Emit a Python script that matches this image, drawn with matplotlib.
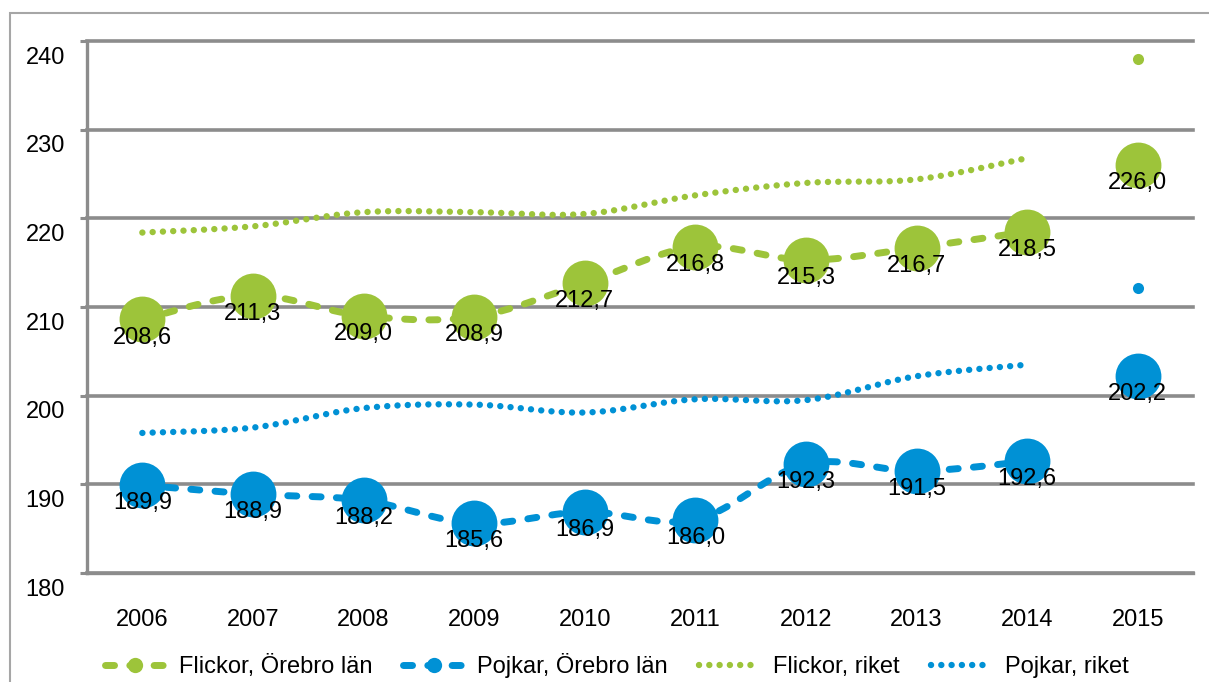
import matplotlib.pyplot as plt
import numpy as np
from matplotlib.lines import Line2D
from matplotlib.patches import Rectangle
from matplotlib.transforms import ScaledTranslation

plt.rcParams["font.family"] = ["Liberation Sans", "DejaVu Sans"]

YEARS = [str(y) for y in range(2006, 2016)]
FLICKOR_LAN = [208.6, 211.3, 209.0, 208.9, 212.7, 216.8, 215.3, 216.7, 218.5, 226.0]
POJKAR_LAN = [189.9, 188.9, 188.2, 185.6, 186.9, 186.0, 192.3, 191.5, 192.6, 202.2]
FLICKOR_RIKET = [218.4, 219.1, 220.7, 220.7, 220.5, 222.6, 224.0, 224.4, 226.8, 238.0]
POJKAR_RIKET = [195.8, 196.4, 198.6, 199.0, 198.1, 199.6, 199.5, 202.2, 203.5, 212.1]
Y_TICKS = [180, 190, 200, 210, 220, 230, 240]

GREEN = "#9dc43a"
BLUE = "#0091d5"
GRID = "#8c8c8c"
DASHED = (0, (1.3, 2.2))
DOTTED = (0, (0.01, 1.6))


def smooth(x, y, steps=24):
    # Excel-style smoothed line (Catmull-Rom as cubic Bezier)
    pts = np.column_stack([x, y]).astype(float)
    out = [pts[0]]
    t = np.linspace(0, 1, steps)[1:, None]
    for i in range(len(pts) - 1):
        p0 = pts[max(i - 1, 0)]
        p1, p2 = pts[i], pts[i + 1]
        p3 = pts[min(i + 2, len(pts) - 1)]
        c1 = p1 + (p2 - p0) / 6
        c2 = p2 - (p3 - p1) / 6
        seg = (1 - t) ** 3 * p1 + 3 * (1 - t) ** 2 * t * c1 + 3 * (1 - t) * t ** 2 * c2 + t ** 3 * p2
        out.extend(seg)
    out = np.array(out)
    return out[:, 0], out[:, 1]


fig = plt.figure(figsize=(12.09, 6.82), dpi=100)
ax = fig.add_axes([0.072, 0.1598, 0.9148, 0.780])
x = np.arange(len(YEARS))

# outer chart frame (runs past right/bottom edge)
fig.patches.append(Rectangle((10 / 1209, -0.1), 1.2, 1 - 13 / 682 + 0.1, transform=fig.transFigure,
                             fill=False, ec="#a6a6a6", lw=1.5))

for vals, color in [(FLICKOR_LAN, GREEN), (POJKAR_LAN, BLUE)]:
    sx, sy = smooth(x[:-1], vals[:-1])
    ax.plot(sx, sy, color=color, lw=5, ls=DASHED, dash_capstyle="round", zorder=2)
    ax.plot(x, vals, "o", ms=33, color=color, mec="none", zorder=3)
    for xi, v in zip(x, vals):
        ax.annotate(f"{v:.1f}".replace(".", ","), (xi, v), xytext=(0, -13), textcoords="offset points",
                    ha="center", va="center", fontsize=17, color="black", zorder=4)

for vals, color in [(FLICKOR_RIKET, GREEN), (POJKAR_RIKET, BLUE)]:
    sx, sy = smooth(x[:-1], vals[:-1])
    ax.plot(sx, sy, color=color, lw=4.6, ls=DOTTED, dash_capstyle="round", zorder=2)
    ax.plot(x[-1], vals[-1], "o", ms=8, color=color, mec="none", zorder=3)

ax.set_xlim(-0.5, len(YEARS) - 0.5)
ax.set_ylim(Y_TICKS[0], Y_TICKS[-1])
ax.set_yticks(Y_TICKS)
ax.set_xticks(x)
ax.set_xticklabels(YEARS)
ax.tick_params(axis="x", length=0, pad=26, labelsize=17)
ax.tick_params(axis="y", length=5, width=2.2, color=GRID, pad=11, labelsize=17)
ax.grid(axis="y", color=GRID, lw=2.6)
for gl in ax.get_ygridlines():
    gl.set_clip_on(False)
ax.set_axisbelow(True)
for side in ["top", "right"]:
    ax.spines[side].set_visible(False)
for side in ["left", "bottom"]:
    ax.spines[side].set_color(GRID)
    ax.spines[side].set_linewidth(2.4)

shift = ScaledTranslation(0, -14 / 100, fig.dpi_scale_trans)
for lbl in ax.get_yticklabels():
    lbl.set_transform(lbl.get_transform() + shift)

handles = [
    Line2D([], [], color=GREEN, lw=5, ls=DASHED, dash_capstyle="round", marker="o", ms=11, mec="none"),
    Line2D([], [], color=BLUE, lw=5, ls=DASHED, dash_capstyle="round", marker="o", ms=11, mec="none"),
    Line2D([], [], color=GREEN, lw=4.6, ls=DOTTED, dash_capstyle="round"),
    Line2D([], [], color=BLUE, lw=4.6, ls=DOTTED, dash_capstyle="round"),
]
labels = ["Flickor, Örebro län", "Pojkar, Örebro län", "Flickor, riket", "Pojkar, riket"]
fig.legend(handles, labels, loc="center", bbox_to_anchor=(0.51, 0.024), ncol=4, frameon=False,
           fontsize=17, handlelength=2.6, handletextpad=0.55, columnspacing=1.3)

fig.savefig("out.png", dpi=100)
